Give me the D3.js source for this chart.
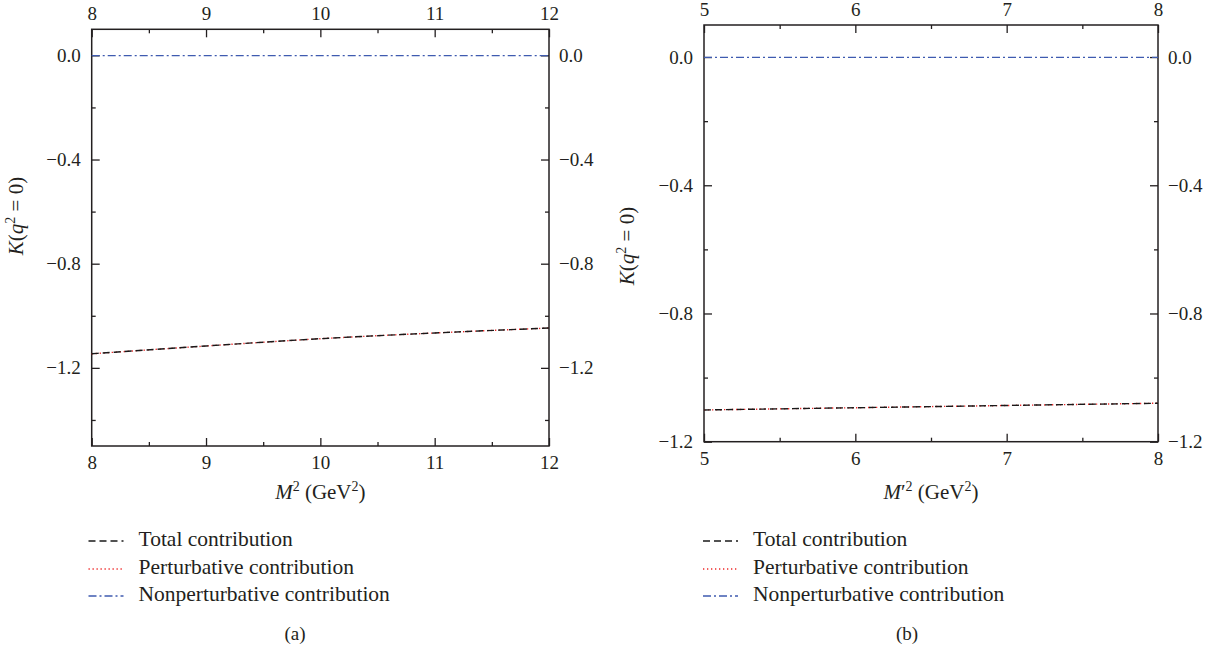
<!DOCTYPE html>
<html>
<head>
<meta charset="utf-8">
<script src="https://cdn.jsdelivr.net/npm/d3@7"></script>
<style>
  body { margin: 0; background: #fff; }
  svg text { font-family: "Liberation Serif", "DejaVu Serif", serif !important; fill: #231f20; }
  .tick line { stroke: #231f20; stroke-width: 1.3; }
</style>
</head>
<body>
<div class="canvas"></div>
<script>
// panel (a): K(q^2=0) against M^2
const xA = [8, 9, 10, 11, 12]
const totalA = [-1.146, -1.116, -1.088, -1.066, -1.047]
const pertA = [-1.146, -1.116, -1.088, -1.066, -1.047]
const nonpertA = [-0.001, -0.001, -0.001, -0.001, -0.001]
const xTicksA = [8, 9, 10, 11, 12]
const xMinorA = [8.5, 9.5, 10.5, 11.5]
const yTicksA = [0, -0.4, -0.8, -1.2]
const yMinorA = [-0.2, -0.6, -1.0, -1.4]

// panel (b): K(q^2=0) against M'^2
const xB = [5, 6, 7, 8]
const totalB = [-1.101, -1.094, -1.087, -1.080]
const pertB = [-1.101, -1.094, -1.087, -1.080]
const nonpertB = [-0.001, -0.001, -0.001, -0.001]
const xTicksB = [5, 6, 7, 8]
const xMinorB = [5.5, 6.5, 7.5]
const yTicksB = [0, -0.4, -0.8, -1.2]
const yMinorB = [-0.2, -0.6, -1.0]

const seriesNames = ['Total contribution', 'Perturbative contribution', 'Nonperturbative contribution']

const styles = [
  {stroke: '#1a1a1a', dash: '7,4', width: 1.4},
  {stroke: '#ee2a2a', dash: '1.3,2.7', width: 1.4},
  {stroke: '#3f5bb0', dash: '8,3,2,3', width: 1.4}
]

const serif = '"Liberation Serif", "DejaVu Serif", serif'

const svg = d3.select('.canvas')
              .append('svg')
              .attr('width', 1215)
              .attr('height', 652)
              .attr('font-family', serif)

function drawPanel(p) {
  const x = d3.scaleLinear().domain(p.xDomain).range([p.left, p.right])
  const y = d3.scaleLinear().domain(p.yDomain).range([p.bottom, p.top])
  const g = svg.append('g')
  const fmt = d3.format('.1f')

  const axes = [
    [d3.axisBottom(x), `translate(0,${p.bottom})`, p.xTicks, p.xMinor, d3.format('d'), 9.5],
    [d3.axisTop(x), `translate(0,${p.top})`, p.xTicks, p.xMinor, d3.format('d'), 9.5],
    [d3.axisLeft(y), `translate(${p.left},0)`, p.yTicks, p.yMinor, fmt, 11],
    [d3.axisRight(y), `translate(${p.right},0)`, p.yTicks, p.yMinor, fmt, 10]
  ]
  axes.forEach(([axis, tr, major, minor, f, pad]) => {
    const a = g.append('g').attr('transform', tr)
      .call(axis.tickValues(major).tickSize(-8).tickPadding(pad).tickFormat(f))
    a.attr('font-family', serif)
    a.selectAll('text').attr('font-size', 19).style('font-family', serif)
    a.select('.domain').remove()
    const m = g.append('g').attr('transform', tr)
      .call(axis.tickValues(minor).tickSize(-4).tickFormat(''))
    m.select('.domain').remove()
  })

  g.append('rect')
    .attr('x', p.left).attr('y', p.top)
    .attr('width', p.right - p.left).attr('height', p.bottom - p.top)
    .attr('fill', 'none')
    .attr('stroke', '#231f20')
    .attr('stroke-width', 1.5)

  const line = d3.line()
    .x(d => x(d[0]))
    .y(d => y(d[1]))
    .curve(d3.curveMonotoneX)

  // red dotted first, black dashes over it, blue on top
  const order = [1, 0, 2]
  order.forEach(i => {
    const vals = p.series[i]
    g.append('path')
      .datum(p.xs.map((v, j) => [v, vals[j]]))
      .attr('d', line)
      .attr('fill', 'none')
      .attr('stroke', styles[i].stroke)
      .attr('stroke-width', styles[i].width)
      .attr('stroke-dasharray', styles[i].dash)
  })

  // x title
  const xt = g.append('text')
    .attr('x', (p.left + p.right) / 2)
    .attr('y', 499)
    .attr('text-anchor', 'middle')
    .attr('font-size', 21)
  xt.append('tspan').attr('font-style', 'italic').text('M')
  if (p.prime) xt.append('tspan').text('\u2032')
  xt.append('tspan').attr('font-size', 14).attr('dy', -8).text('2')
  xt.append('tspan').attr('dy', 8).text(' (GeV')
  xt.append('tspan').attr('font-size', 14).attr('dy', -8).text('2')
  xt.append('tspan').attr('dy', 8).text(')')

  // y title
  const yt = g.append('text')
    .attr('transform', `translate(${p.yTitleX},${p.yTitleY}) rotate(-90)`)
    .attr('text-anchor', 'middle')
    .attr('font-size', 21)
  yt.append('tspan').attr('font-style', 'italic').text('K')
  yt.append('tspan').text('(')
  yt.append('tspan').attr('font-style', 'italic').text('q')
  yt.append('tspan').attr('font-size', 14).attr('dy', -8).text('2')
  yt.append('tspan').attr('dy', 8).text(' = 0)')

  // legend
  const rows = [546, 574, 601]
  seriesNames.forEach((name, i) => {
    g.append('line')
      .attr('x1', p.legendX).attr('x2', p.legendX + 35)
      .attr('y1', rows[i] - 5).attr('y2', rows[i] - 5)
      .attr('stroke', styles[i].stroke)
      .attr('stroke-width', styles[i].width)
      .attr('stroke-dasharray', styles[i].dash)
    g.append('text')
      .attr('x', p.legendX + 50)
      .attr('y', rows[i])
      .attr('font-size', 21.5)
      .text(name)
  })

  g.append('text')
    .attr('x', p.tagX).attr('y', 640)
    .attr('text-anchor', 'middle')
    .attr('font-size', 19)
    .text(p.tag)
}

drawPanel({
  xs: xA, series: [totalA, pertA, nonpertA],
  xDomain: [8, 12], yDomain: [-1.5, 0.1],
  xTicks: xTicksA, xMinor: xMinorA, yTicks: yTicksA, yMinor: yMinorA,
  left: 91.7, right: 549, top: 29.3, bottom: 446,
  yTitleX: 23, yTitleY: 216, legendX: 88.5, tagX: 295, tag: '(a)', prime: false
})

drawPanel({
  xs: xB, series: [totalB, pertB, nonpertB],
  xDomain: [5, 8], yDomain: [-1.2, 0.1],
  xTicks: xTicksB, xMinor: xMinorB, yTicks: yTicksB, yMinor: yMinorB,
  left: 704, right: 1158, top: 25, bottom: 441.7,
  yTitleX: 634, yTitleY: 246, legendX: 703, tagX: 907, tag: '(b)', prime: true
})
</script>
</body>
</html>
